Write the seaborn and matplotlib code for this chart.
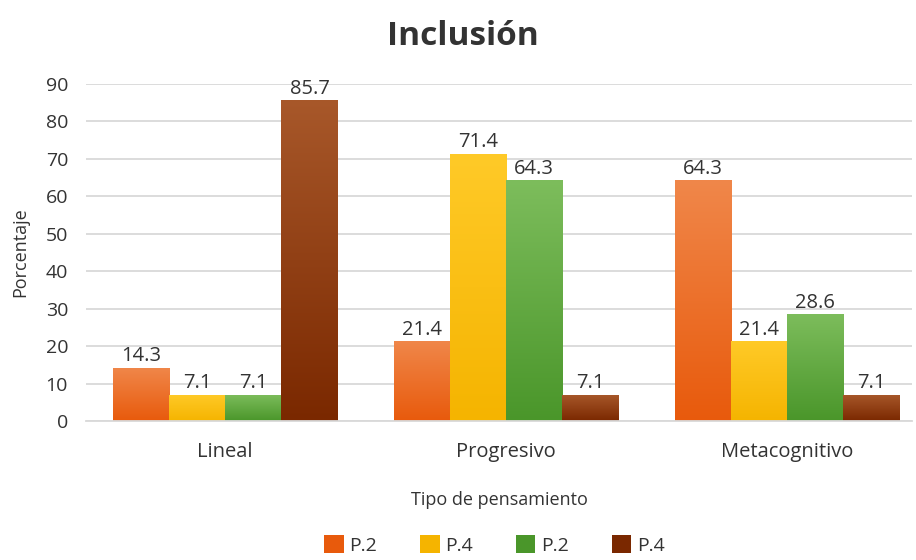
import matplotlib
matplotlib.use("Agg")
from matplotlib import pyplot as plt
import numpy as np
import pandas as pd
import seaborn as sns
from matplotlib.colors import LinearSegmentedColormap
from matplotlib.patches import Patch

# data
categories = ["Lineal", "Progresivo", "Metacognitivo"]
series_keys = ["s1", "s2", "s3", "s4"]
series_labels = ["P.2", "P.4", "P.2", "P.4"]
s1 = [14.3, 21.4, 64.3]
s2 = [7.1, 71.4, 21.4]
s3 = [7.1, 64.3, 28.6]
s4 = [85.7, 7.1, 7.1]

rows = []
for key, vals in zip(series_keys, [s1, s2, s3, s4]):
    for cat, v in zip(categories, vals):
        rows.append({"Tipo": cat, "serie": key, "valor": v})
df = pd.DataFrame(rows)

# (top colour, bottom colour) for the gradients
grad = {
    "s1": ("#F0874A", "#E85A0C"),
    "s2": ("#FFCA28", "#F5B400"),
    "s3": ("#7DBD5C", "#4A962A"),
    "s4": ("#A8582A", "#7A2800"),
}

sns.set_style("white")
plt.rcParams["font.family"] = ["Open Sans", "DejaVu Sans"]

fig = plt.figure(figsize=(9.16, 5.6), dpi=100)
ax = fig.add_axes([0.094, 0.248, 0.902, 0.602])

palette = {k: grad[k][1] for k in series_keys}
sns.barplot(data=df, x="Tipo", y="valor", hue="serie", hue_order=series_keys,
            order=categories, palette=palette, width=0.8, ax=ax, legend=False,
            saturation=1)

# gradient fill clipped to each bar
gradient = np.linspace(0, 1, 256).reshape(-1, 1)
for container, key in zip(ax.containers, series_keys):
    cmap = LinearSegmentedColormap.from_list(key, [grad[key][1], grad[key][0]])
    for bar in container:
        x0, y0 = bar.get_x(), bar.get_y()
        w, h = bar.get_width(), bar.get_height()
        bar.set_facecolor("none")
        bar.set_edgecolor("none")
        im = ax.imshow(gradient, cmap=cmap, aspect="auto", origin="lower",
                       extent=[x0, x0 + w, y0, y0 + h], zorder=2)
        im.set_clip_path(bar)
    ax.bar_label(container, fmt="%.1f", padding=1, fontsize=14.5, color="#333333")

ax.set_xlim(-0.495, 2.445)
ax.set_ylim(0, 90)
ax.set_yticks(range(0, 91, 10))
ax.yaxis.grid(True, color="#D9D9D9", linewidth=1.3)
ax.set_axisbelow(True)
for s in ["top", "right", "left"]:
    ax.spines[s].set_visible(False)
ax.spines["bottom"].set_color("#D9D9D9")
ax.spines["bottom"].set_linewidth(1.3)
ax.tick_params(axis="both", length=0, labelcolor="#333333")
ax.tick_params(axis="y", pad=13, labelsize=14)
ax.tick_params(axis="x", pad=15, labelsize=14.5)

ax.set_xlabel("Tipo de pensamiento", fontsize=13, color="#333333", labelpad=21)
ax.set_ylabel("Porcentaje", fontsize=13, color="#333333", labelpad=12)
fig.suptitle("Inclusión", fontsize=24, fontweight="bold", color="#333333",
             x=0.505, y=0.965)

handles = [Patch(facecolor=grad[k][1], edgecolor="none") for k in series_keys]
fig.legend(handles, series_labels, loc="lower center", ncol=4, frameon=False,
           fontsize=14, bbox_to_anchor=(0.54, -0.022), handlelength=1.0,
           handleheight=1.0, handletextpad=0.3, columnspacing=2.2,
           labelcolor="#333333")

fig.savefig("out.png", dpi=100)
